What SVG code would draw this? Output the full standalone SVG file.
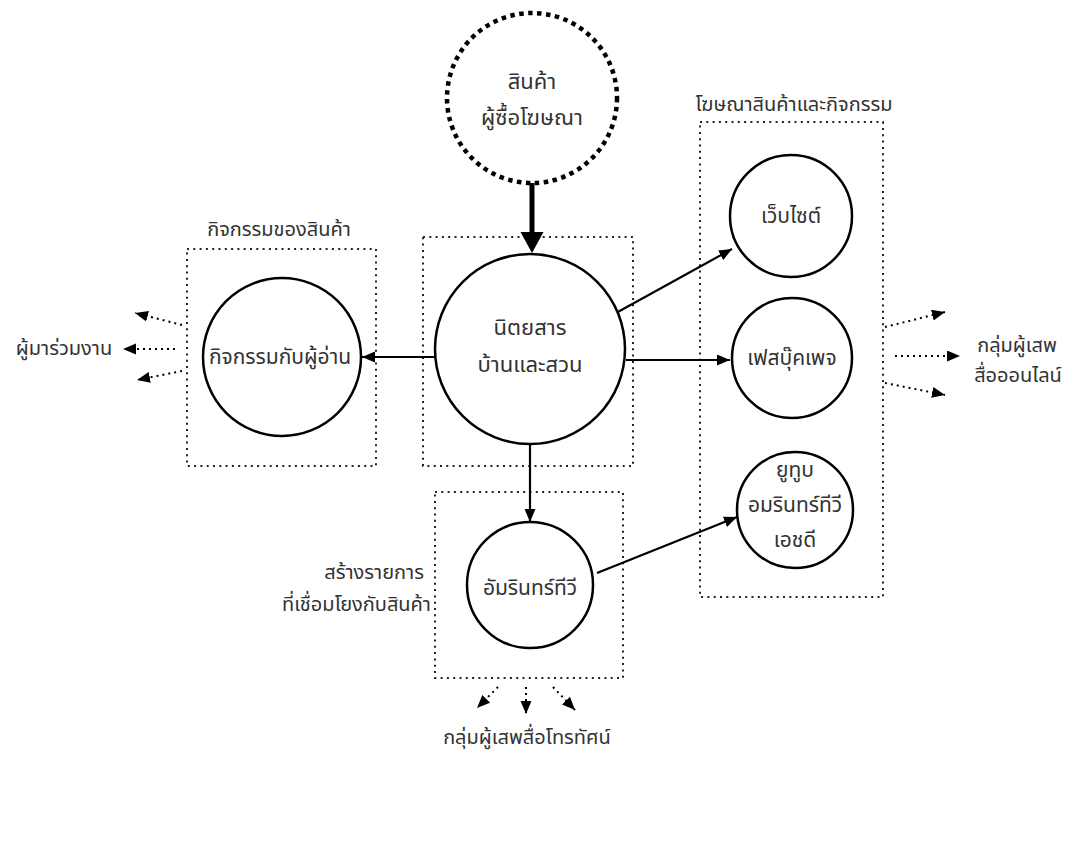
<svg xmlns="http://www.w3.org/2000/svg" width="1074" height="850" viewBox="0 0 1074 850">
<style>
text{font-family:"Noto Sans Thai","Noto Sans","DejaVu Sans",sans-serif;font-size:20px;fill:#333;text-anchor:middle}
.nt{font-size:21px}
.mt{font-size:22px}
.node{fill:#fff;stroke:#000;stroke-width:2.5}
.dotc{fill:#fff;stroke:#000;stroke-width:4.5;stroke-dasharray:4.5 4.5}
.box{fill:none;stroke:#222;stroke-width:2;stroke-dasharray:2 4.3}
.arr{fill:none;stroke:#000;stroke-width:2.2;marker-end:url(#ah)}
.darr{fill:none;stroke:#000;stroke-width:2;stroke-dasharray:2 4;marker-end:url(#ah)}
.thick{fill:none;stroke:#000;stroke-width:5;marker-end:url(#big)}
</style>
<defs>
<marker id="ah" markerUnits="userSpaceOnUse" markerWidth="14" markerHeight="12" refX="13" refY="5.5" orient="auto"><path d="M0,0 L13,5.5 L0,11 z" fill="#000"/></marker>
<marker id="big" markerUnits="userSpaceOnUse" markerWidth="22" markerHeight="24" refX="0" refY="11.5" orient="auto"><path d="M0,0 L21,11.5 L0,23 z" fill="#000"/></marker>
</defs>
<rect width="1074" height="850" fill="#fff"/>

<g id="box-activity">
<rect class="box" x="187" y="249" width="189" height="217"/>
<text x="279" y="236">กิจกรรมของสินค้า</text>
</g>
<g id="box-magazine">
<rect class="box" x="423" y="237" width="210" height="229"/>
</g>
<g id="box-tv">
<rect class="box" x="435" y="492" width="188" height="186"/>
<text x="424" y="579" style="text-anchor:end">สร้างรายการ</text>
<text x="431" y="611" style="text-anchor:end">ที่เชื่อมโยงกับสินค้า</text>
</g>
<g id="box-online">
<rect class="box" x="700" y="122" width="183" height="475"/>
<text x="794" y="111">โฆษณาสินค้าและกิจกรรม</text>
</g>

<g id="connectors">
<line class="thick" x1="532" y1="183" x2="532" y2="232"/>
<line class="arr" x1="435" y1="357" x2="362" y2="357"/>
<line class="arr" x1="616" y1="313" x2="732" y2="249"/>
<line class="arr" x1="626" y1="360" x2="730" y2="360"/>
<line class="arr" x1="530" y1="444" x2="530" y2="522"/>
<line class="arr" x1="597" y1="573" x2="737" y2="517"/>
<line class="darr" x1="182" y1="325" x2="135" y2="313"/>
<line class="darr" x1="175" y1="349" x2="123" y2="349"/>
<line class="darr" x1="182" y1="371" x2="137" y2="380"/>
<line class="darr" x1="885" y1="327" x2="945" y2="312"/>
<line class="darr" x1="895" y1="356" x2="960" y2="356"/>
<line class="darr" x1="885" y1="383" x2="945" y2="395"/>
<line class="darr" x1="498" y1="687" x2="477" y2="708"/>
<line class="darr" x1="526" y1="687" x2="526" y2="714"/>
<line class="darr" x1="553" y1="687" x2="575" y2="710"/>
</g>

<g id="node-advertiser">
<circle class="dotc" cx="532" cy="98" r="85"/>
<text class="mt" x="532" y="89">สินค้า</text>
<text class="mt" x="532" y="125">ผู้ซื้อโฆษณา</text>
</g>
<g id="node-magazine">
<circle class="node" cx="530" cy="349" r="95"/>
<text class="mt" x="530" y="335">นิตยสาร</text>
<text class="mt" x="530" y="372">บ้านและสวน</text>
</g>
<g id="node-reader">
<circle class="node" cx="282" cy="357" r="79"/>
<text class="nt" x="280" y="364">กิจกรรมกับผู้อ่าน</text>
</g>
<g id="node-website">
<circle class="node" cx="791" cy="216" r="61"/>
<text class="nt" x="791" y="223">เว็บไซต์</text>
</g>
<g id="node-facebook">
<circle class="node" cx="792" cy="358" r="60"/>
<text class="nt" x="792" y="365">เฟสบุ๊คเพจ</text>
</g>
<g id="node-youtube">
<circle class="node" cx="795" cy="510" r="58"/>
<text class="nt" x="795" y="477">ยูทูบ</text>
<text class="nt" x="795" y="512">อมรินทร์ทีวี</text>
<text class="nt" x="795" y="547">เอชดี</text>
</g>
<g id="node-amarin">
<circle class="node" cx="530" cy="585" r="63"/>
<text class="nt" x="530" y="595">อัมรินทร์ทีวี</text>
</g>

<g id="labels">
<text x="64" y="355">ผู้มาร่วมงาน</text>
<text x="1017" y="352">กลุ่มผู้เสพ</text>
<text x="1018" y="382">สื่อออนไลน์</text>
<text x="527" y="744">กลุ่มผู้เสพสื่อโทรทัศน์</text>
</g>
</svg>
